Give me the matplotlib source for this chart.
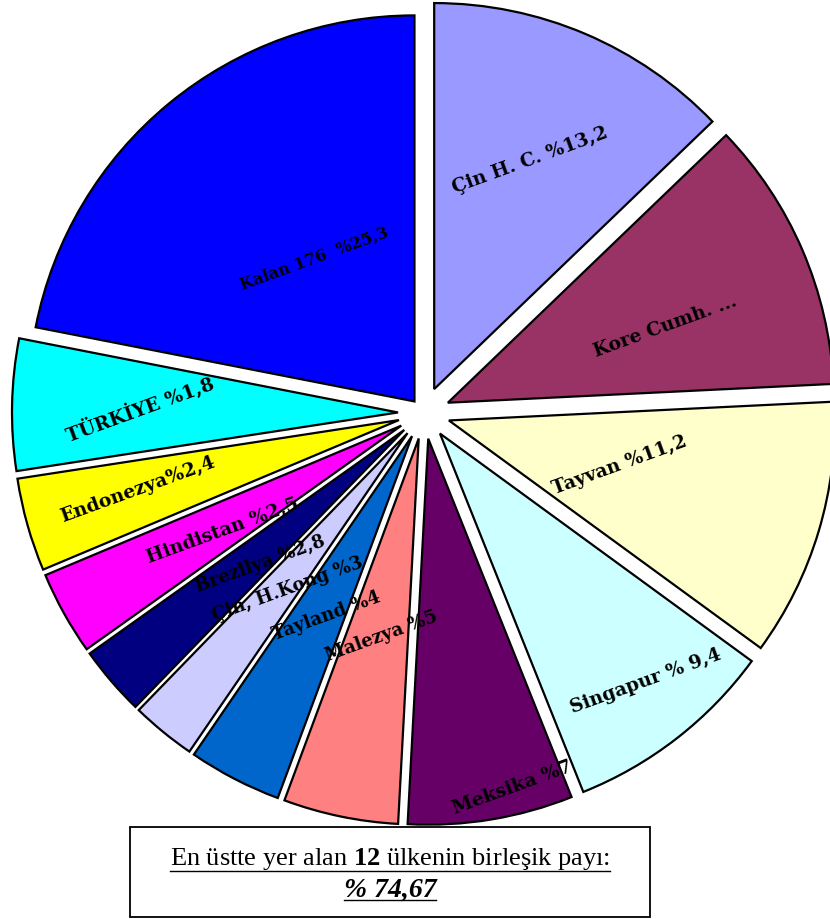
import matplotlib
matplotlib.use("Agg")
import matplotlib.pyplot as plt
from matplotlib.patches import Rectangle
import numpy as np

# slice sizes (clockwise from 12 o'clock)
countries = ["Çin H. C.", "Kore Cumh.", "Tayvan", "Singapur", "Meksika", "Malezya",
             "Tayland", "Çin, H.Kong", "Brezilya", "Hindistan", "Endonezya",
             "TÜRKİYE", "Kalan 176"]
shares = [12.8, 11.4, 10.8, 8.9, 6.9, 4.8, 3.9, 2.7, 2.9, 3.5, 3.9, 5.5, 21.9]
# text written inside the slices
labels = ["Çin H. C. %13,2", "Kore Cumh. ...", "Tayvan %11,2", "Singapur % 9,4",
          "Meksika %7", "Malezya %5", "Tayland %4", "Çin, H.Kong %3",
          "Brezilya %2,8", "Hindistan %2,5", "Endonezya%2,4", "TÜRKİYE %1,8",
          "Kalan 176  %25,3"]
colors = ["#9999FF", "#993366", "#FFFFCC", "#CCFFFF", "#660066", "#FF8080",
          "#0066CC", "#CCCCFF", "#000080", "#FF00FF", "#FFFF00", "#00FFFF",
          "#0000FF"]

top12_text = "En üstte yer alan $\\mathbf{12}$ ülkenin birleşik payı:"
top12_share = "% 74,67"

# label placement inside each wedge: radius fraction, angle shift (deg)
label_r = [0.645, 0.598, 0.456, 0.834, 0.927, 0.52, 0.513, 0.508, 0.508, 0.536, 0.70, 0.668, 0.453]
label_da = [0.3, -3.9, 2.4, 2, 4.3, 1.1, 1.9, 1.5, 2.1, 1.2, -1, 0.25, -4.6]
label_fs = [13.5, 13.5, 13.5, 13.5, 13.5, 13, 13, 13, 13, 13.5, 13.5, 13.5, 11.5]
explode = [26] * 12 + [15]

plt.rcParams["mathtext.fontset"] = "custom"
plt.rcParams["mathtext.rm"] = "Liberation Serif"
plt.rcParams["mathtext.bf"] = "Liberation Serif:bold"

W, H = 830, 920
fig = plt.figure(figsize=(8.3, 9.2), dpi=100)
ax = fig.add_axes([0, 0, 1, 1])

R = 386
wedges, _ = ax.pie(shares, colors=colors, radius=R, center=(424, H - 414),
                   startangle=90, counterclock=False, explode=explode,
                   wedgeprops=dict(edgecolor="black", linewidth=1.6))
ax.set_xlim(0, W)
ax.set_ylim(0, H)
ax.set_aspect("equal")
ax.axis("off")

for w, lab, r, da, fs in zip(wedges, labels, label_r, label_da, label_fs):
    mid = np.radians((w.theta1 + w.theta2) / 2 + da)
    cx, cy = w.center
    ax.text(cx + r * R * np.cos(mid), cy + r * R * np.sin(mid), lab,
            ha="center", va="center", rotation=20, fontsize=fs,
            fontweight="bold", family="DejaVu Serif", color="black",
            rotation_mode="anchor")

box = Rectangle((130, H - 918), 520, 90, facecolor="white", edgecolor="black",
                linewidth=1.3, zorder=5)
ax.add_patch(box)

t1 = ax.text(390, H - 865, top12_text, ha="center", va="baseline", fontsize=19,
             family="Liberation Serif", zorder=6)
t2 = ax.text(390, H - 897, top12_share, ha="center", va="baseline", fontsize=20,
             family="Liberation Serif", fontweight="bold", fontstyle="italic", zorder=6)

# underline both lines
fig.canvas.draw()
inv = ax.transData.inverted()
for t, y in [(t1, H - 872), (t2, H - 901)]:
    bb = t.get_window_extent()
    x0, _ = inv.transform((bb.x0, bb.y0))
    x1, _ = inv.transform((bb.x1, bb.y0))
    ax.plot([x0, x1], [y, y], color="black", linewidth=1.0, zorder=6)

fig.savefig("out.png", dpi=100)
